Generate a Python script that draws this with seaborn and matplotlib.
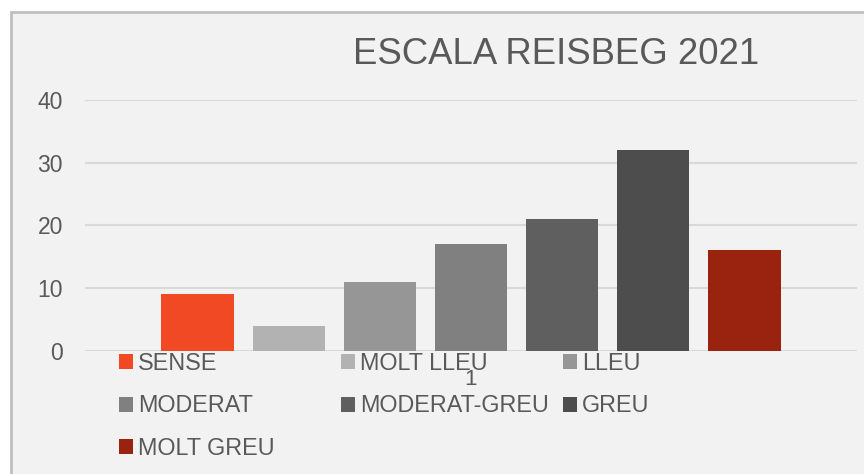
import matplotlib
matplotlib.use("Agg")
import matplotlib.pyplot as plt
from matplotlib.patches import Rectangle
import seaborn as sns
import pandas as pd

categories = ["SENSE", "MOLT LLEU", "LLEU", "MODERAT", "MODERAT-GREU", "GREU", "MOLT GREU"]
values = [9, 4, 11, 17, 21, 32, 16]
group = ["1"] * len(categories)
colors = ["#F04923", "#B2B2B2", "#969696", "#808080", "#5F5F5F", "#4D4D4D", "#9A2310"]
title = "ESCALA REISBEG 2021"
yticks = [0, 10, 20, 30, 40]

sns.set_style("white")
plt.rcParams["font.family"] = ["Liberation Sans", "DejaVu Sans"]

TXT = "#595959"
W, H = 864, 474
fig = plt.figure(figsize=(W / 100, H / 100), dpi=100, facecolor="white")

# chart area background with border (cropped at right/bottom)
bg = Rectangle((11 / W, -0.1), 1.2, 1 - 12 / H + 0.1, transform=fig.transFigure,
               facecolor="#F2F2F2", edgecolor="#BFBFBF", linewidth=2, zorder=-10)
fig.patches.append(bg)

ax = fig.add_axes([85 / W, 1 - 350.7 / H, (857 - 85) / W, (350.7 - 100) / H])
ax.set_facecolor("none")
ax.set_zorder(1)

df = pd.DataFrame({"grp": group, "cat": categories, "val": values})
sns.barplot(data=df, x="grp", y="val", hue="cat", hue_order=categories,
            palette=dict(zip(categories, colors)), width=0.826, gap=0.203,
            errorbar=None, ax=ax, saturation=1, legend=True, linewidth=0)
handles, labels = ax.get_legend_handles_labels()
if ax.get_legend() is not None:
    ax.get_legend().remove()
for h in handles:
    h.set_linewidth(0)

ax.set_ylim(0, 40)
ax.set_yticks(yticks)
ax.set_xlim(-0.5, 0.5)
ax.set_xlabel("")
ax.set_ylabel("")
for s in ax.spines.values():
    s.set_visible(False)
ax.grid(axis="y", color="#D9D9D9", linewidth=1.5, zorder=0)
ax.set_axisbelow(True)
ax.tick_params(axis="y", length=0, pad=16, labelsize=16.5, labelcolor=TXT)
ax.tick_params(axis="x", length=0, pad=13, labelsize=16, labelcolor=TXT)

fig.text(353 / W, 1 - 63.5 / H, title, ha="left", va="baseline", fontsize=26.3, color=TXT)

# legend: 3 equal columns, row-major order
cols = [[0, 3, 6], [1, 4], [2, 5]]
col_x = [119, 341, 563]
for xi, idx in zip(col_x, cols):
    leg = fig.legend([handles[i] for i in idx], [labels[i] for i in idx],
                     loc="upper left", bbox_to_anchor=(xi / W, 1 - 352 / H),
                     bbox_transform=fig.transFigure, frameon=False, ncol=1,
                     fontsize=16.8, handlelength=0.6, handleheight=0.6,
                     handletextpad=0.22, labelspacing=0.83, borderpad=0,
                     borderaxespad=0)
    leg.set_zorder(5)
    for t in leg.get_texts():
        t.set_color(TXT)

fig.savefig("out.png", dpi=100, facecolor="white")
